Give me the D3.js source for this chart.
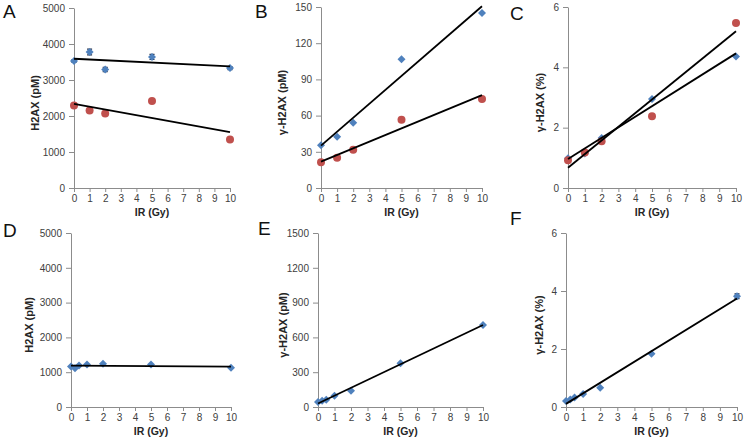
<!DOCTYPE html>
<html>
<head>
<meta charset="utf-8">
<script src="https://cdn.jsdelivr.net/npm/d3@7/dist/d3.min.js"></script>
<style>
  body { margin: 0; background: #fff; }
  svg { display: block; font-family: 'Liberation Sans', Arial, sans-serif; }
</style>
</head>
<body>
<div id="container"></div>
<script>
// doses (Gy)
const doseTop = [0, 1, 2, 5, 10];
const doseBottom = [0, 0.25, 0.5, 1, 2, 5, 10];
const xTicks = [0, 1, 2, 3, 4, 5, 6, 7, 8, 9, 10];

// panel A: H2AX (pM)
const aBlue = [3530, 3780, 3290, 3640, 3330];
const aBlueErr = [40, 80, 60, 70, 40];
const aRed = [2290, 2150, 2070, 2420, 1350];
// panel B: gamma-H2AX (pM)
const bBlue = [35.4, 42.5, 54.1, 106.6, 145];
const bRed = [21.3, 25.1, 31.8, 56.6, 73.8];
// panel C: gamma-H2AX (%)
const cBlue = [0.99, 1.14, 1.66, 2.95, 4.36];
const cRed = [0.92, 1.18, 1.55, 2.38, 5.47];
// panel D: H2AX (pM)
const dBlue = [1164, 1116, 1190, 1220, 1240, 1220, 1126];
// panel E: gamma-H2AX (pM)
const eBlue = [43, 54, 63, 97, 140, 378, 707];
// panel F: gamma-H2AX (%)
const fBlue = [0.21, 0.26, 0.33, 0.45, 0.66, 1.84, 3.82];
const fBlueErr = [0, 0, 0, 0, 0, 0.03, 0.08];

const yTicksH2ax = [0, 1000, 2000, 3000, 4000, 5000];
const yTicksB = [0, 30, 60, 90, 120, 150];
const yTicksPct = [0, 2, 4, 6];
const yTicksE = [0, 300, 600, 900, 1200, 1500];

const blue = '#4f81bd';
const red = '#c0504d';

const panels = [
  { letter: 'A', lx: 3, ly: 18, x0: 74, x1: 230, top: 8, bot: 188, titleX: 35, title: 'H2AX (pM)',
    yTicks: yTicksH2ax, dose: doseTop,
    series: [{ values: aBlue, err: aBlueErr, kind: 'diamond' }, { values: aRed, kind: 'circle' }] },
  { letter: 'B', lx: 255, ly: 18, x0: 321, x1: 482, top: 7, bot: 188, titleX: 282, title: 'γ-H2AX (pM)',
    yTicks: yTicksB, dose: doseTop,
    series: [{ values: bBlue, kind: 'diamond' }, { values: bRed, kind: 'circle' }] },
  { letter: 'C', lx: 510, ly: 20, x0: 568, x1: 736, top: 7, bot: 188, titleX: 540, title: 'γ-H2AX (%)',
    yTicks: yTicksPct, dose: doseTop,
    series: [{ values: cBlue, kind: 'diamond' }, { values: cRed, kind: 'circle' }] },
  { letter: 'D', lx: 3, ly: 237, x0: 71, x1: 231, top: 233, bot: 407, titleX: 29, title: 'H2AX (pM)',
    yTicks: yTicksH2ax, dose: doseBottom,
    series: [{ values: dBlue, kind: 'diamond' }] },
  { letter: 'E', lx: 258, ly: 235, x0: 318, x1: 483, top: 233, bot: 407, titleX: 283, title: 'γ-H2AX (pM)',
    yTicks: yTicksE, dose: doseBottom,
    series: [{ values: eBlue, kind: 'diamond' }] },
  { letter: 'F', lx: 510, ly: 225, x0: 566, x1: 737, top: 233, bot: 407, titleX: 539, title: 'γ-H2AX (%)',
    yTicks: yTicksPct, dose: doseBottom,
    series: [{ values: fBlue, err: fBlueErr, kind: 'diamond' }] }
];

const svg = d3.select('#container').append('svg')
  .attr('width', 744)
  .attr('height', 443);

panels.forEach(drawPanel);

function fit(xs, ys) {
  const mx = d3.mean(xs), my = d3.mean(ys);
  let sxy = 0, sxx = 0;
  xs.forEach((x, i) => { sxy += (x - mx) * (ys[i] - my); sxx += (x - mx) * (x - mx); });
  const slope = sxy / sxx;
  return { slope, intercept: my - slope * mx };
}

function drawPanel(p) {
  const x = d3.scaleLinear().domain([0, 10]).range([p.x0, p.x1]);
  const y = d3.scaleLinear().domain([0, d3.max(p.yTicks)]).range([p.bot, p.top]);
  const g = svg.append('g');

  const yAxis = g.append('g')
    .attr('transform', `translate(${p.x0},0)`)
    .call(d3.axisLeft(y).tickValues(p.yTicks).tickFormat(d3.format('d'))
      .tickSize(5).tickPadding(4).tickSizeOuter(0));
  const xAxis = g.append('g')
    .attr('transform', `translate(0,${p.bot})`)
    .call(d3.axisBottom(x).tickValues(xTicks).tickFormat(d3.format('d'))
      .tickSize(4).tickPadding(3).tickSizeOuter(0));

  [yAxis, xAxis].forEach((a) => {
    a.select('.domain').attr('stroke', '#8c8c8c');
    a.selectAll('.tick line').attr('stroke', '#8c8c8c');
    a.selectAll('.tick text').attr('fill', '#404040').style('font-size', '10px');
  });

  g.append('text')
    .attr('x', (p.x0 + p.x1) / 2)
    .attr('y', p.bot + 28)
    .attr('text-anchor', 'middle')
    .style('font-size', '10.5px')
    .style('font-weight', 'bold')
    .attr('fill', '#262626')
    .text('IR (Gy)');

  g.append('text')
    .attr('transform', `translate(${p.titleX},${(p.top + p.bot) / 2 + 5}) rotate(-90)`)
    .attr('text-anchor', 'middle')
    .attr('dy', '0.35em')
    .style('font-size', '11px')
    .style('font-weight', 'bold')
    .attr('fill', '#262626')
    .text(p.title);

  g.append('text')
    .attr('x', p.lx)
    .attr('y', p.ly)
    .style('font-size', '19px')
    .attr('fill', '#111')
    .text(p.letter);

  p.series.forEach((s) => {
    const pts = p.dose.map((d, i) => ({ d, v: s.values[i], e: s.err ? s.err[i] : 0 }));

    // error bars
    g.append('g').selectAll('path')
      .data(pts.filter((pt) => pt.e > 0))
      .enter()
      .append('path')
      .attr('d', (pt) => {
        const cx = x(pt.d), hi = y(pt.v + pt.e), lo = y(pt.v - pt.e);
        return `M${cx},${hi}V${lo}M${cx - 2.5},${hi}H${cx + 2.5}M${cx - 2.5},${lo}H${cx + 2.5}`;
      })
      .attr('stroke', '#1f2a44')
      .attr('stroke-width', 1.2)
      .attr('fill', 'none');

    if (s.kind === 'diamond') {
      g.append('g').selectAll('path')
        .data(pts)
        .enter()
        .append('path')
        .attr('d', 'M0,-4L4,0L0,4L-4,0Z')
        .attr('transform', (pt) => `translate(${x(pt.d)},${y(pt.v)})`)
        .attr('fill', blue);
    } else {
      g.append('g').selectAll('circle')
        .data(pts)
        .enter()
        .append('circle')
        .attr('cx', (pt) => x(pt.d))
        .attr('cy', (pt) => y(pt.v))
        .attr('r', 4)
        .attr('fill', red);
    }
  });

  // linear trendlines
  p.series.forEach((s) => {
    const f = fit(p.dose, s.values);
    g.append('line')
      .attr('x1', x(0))
      .attr('y1', y(f.intercept))
      .attr('x2', x(10))
      .attr('y2', y(f.intercept + f.slope * 10))
      .attr('stroke', '#000')
      .attr('stroke-width', 1.8);
  });
}
</script>
</body>
</html>
